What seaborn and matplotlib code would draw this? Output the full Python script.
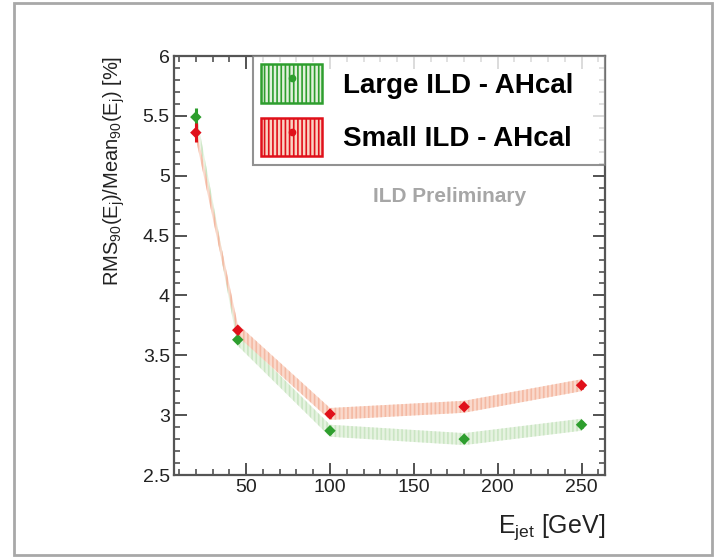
import numpy as np
import pandas as pd
import matplotlib
matplotlib.use("Agg")
import matplotlib.pyplot as plt
import seaborn as sns
from matplotlib.patches import Patch, Rectangle
from matplotlib.lines import Line2D
from matplotlib.legend_handler import HandlerTuple
from matplotlib.ticker import MultipleLocator

# Jet energy resolution vs jet energy
e_jet = [20, 45, 100, 180, 250]
large_ild = [5.49, 3.63, 2.87, 2.80, 2.92]
small_ild = [5.36, 3.71, 3.01, 3.07, 3.25]
large_err = [0.08, 0.03, 0.03, 0.03, 0.03]
small_err = [0.08, 0.03, 0.03, 0.03, 0.03]
band_half = 0.05

labels = ["Large ILD - AHcal", "Small ILD - AHcal"]
point_colors = ["#2e9e2e", "#e0101a"]
band_colors = ["#e2f1dc", "#fad3c3"]
hatch_colors = ["#c6e3be", "#f3b49c"]

sns.set_style("ticks")
plt.rcParams["font.family"] = ["Liberation Sans", "DejaVu Sans"]
plt.rcParams["mathtext.fontset"] = "custom"
plt.rcParams["mathtext.rm"] = "Liberation Sans"
plt.rcParams["mathtext.it"] = "Liberation Sans:italic"
plt.rcParams["hatch.linewidth"] = 1.2

df = pd.DataFrame({
    "E": e_jet * 2,
    "res": large_ild + small_ild,
    "err": large_err + small_err,
    "det": [labels[0]] * len(e_jet) + [labels[1]] * len(e_jet),
})

fig = plt.figure(figsize=(7.2, 5.58), dpi=100)
ax = fig.add_axes([0.2417, 0.1487, 0.5986, 0.7509])

# outer frame round the whole picture
fig.patches.append(Rectangle((14 / 720, 3 / 558), 698 / 720, 552 / 558,
                             transform=fig.transFigure, fill=False,
                             edgecolor="#a8a8a8", linewidth=2))

handles = []
for i, lab in enumerate(labels):
    sub = df[df["det"] == lab]
    ax.fill_between(sub["E"], sub["res"] - band_half, sub["res"] + band_half,
                    facecolor=band_colors[i], edgecolor=hatch_colors[i],
                    hatch="||||", linewidth=0, alpha=0.85, zorder=1)
    ax.errorbar(sub["E"], sub["res"], yerr=sub["err"], fmt="none",
                ecolor=point_colors[i], elinewidth=2.2, zorder=3)
    handles.append((Patch(facecolor=band_colors[i], edgecolor=point_colors[i],
                          hatch="||||", linewidth=1.8),
                    Line2D([], [], marker="o", color=point_colors[i],
                           linestyle="none", markersize=4.5)))

sns.scatterplot(data=df, x="E", y="res", hue="det", palette=point_colors,
                s=34, marker="D", edgecolor="none", legend=False, ax=ax, zorder=4)

ax.set_xlim(7, 264)
ax.set_ylim(2.5, 6)
ax.xaxis.set_minor_locator(MultipleLocator(10))
ax.yaxis.set_minor_locator(MultipleLocator(0.1))
ax.set_xticks([50, 100, 150, 200, 250])
ax.set_yticks([2.5, 3, 3.5, 4, 4.5, 5, 5.5, 6])
ax.set_yticklabels(["2.5", "3", "3.5", "4", "4.5", "5", "5.5", "6"])
ax.tick_params(which="both", direction="in", top=True, right=True,
               colors="#444444", labelcolor="#222222", labelsize=14, pad=3)
ax.tick_params(which="major", length=9, width=1.3)
ax.tick_params(which="minor", length=4.5, width=1.1)
for t in ax.get_xticklabels() + ax.get_yticklabels():
    t.set_fontweight("medium")
for sp in ax.spines.values():
    sp.set_color("#555555")
    sp.set_linewidth(1.6)

ax.set_xlabel(r"E$_{\rm jet}$ [GeV]", fontsize=18, color="#222222",
              loc="right")
ax.xaxis.set_label_coords(1.0, -0.09)
ax.set_ylabel(r"RMS$_{90}$(E$_{\rm j}$)/Mean$_{90}$(E$_{\rm j}$) [%]",
              fontsize=14.5, color="#222222", loc="top")
ax.yaxis.set_label_coords(-0.11, 1.0)

ax.text(0.64, 0.665, "ILD Preliminary", transform=ax.transAxes,
        ha="center", va="center", fontsize=15, fontweight="bold",
        color="#a6a6a6")

leg = ax.legend(handles, labels, loc="upper left",
                bbox_to_anchor=(0.1833, 0.0, 0.8167, 1.0), mode="expand",
                borderaxespad=0, frameon=True, fancybox=False,
                prop={"size": 20, "weight": "bold"}, handlelength=2.2,
                handleheight=1.75, labelspacing=0.55, borderpad=0.3,
                handletextpad=0.75, labelcolor="black",
                handler_map={tuple: HandlerTuple(ndivide=1)})
leg.get_frame().set_edgecolor("#777777")
leg.get_frame().set_linewidth(1.5)

fig.savefig("out.png", dpi=100)
